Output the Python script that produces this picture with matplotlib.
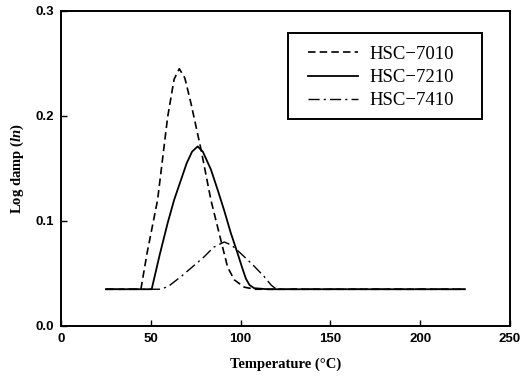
import numpy as np
import matplotlib
matplotlib.use('Agg')
from matplotlib import pyplot as plt, patches

plt.rcParams['mathtext.fontset'] = 'custom'
plt.rcParams['mathtext.it'] = 'Liberation Serif:italic:bold'
plt.rcParams['mathtext.rm'] = 'Liberation Serif:bold'

# HSC-7010 (dashed)
t_7010 = [25, 35, 44.5, 48, 53.8, 59.4, 63, 65.9, 69, 72.4, 78, 83.5, 89, 92.8, 96.5, 102, 108, 115, 130, 160, 200, 225]
d_7010 = [0.035, 0.035, 0.035, 0.07, 0.12, 0.199, 0.235, 0.245, 0.236, 0.212, 0.168, 0.12, 0.082, 0.056, 0.044, 0.037, 0.035, 0.035, 0.035, 0.035, 0.035, 0.035]

# HSC-7210 (solid)
t_7210 = [25, 40, 50.5, 55, 59.4, 63, 66.8, 70, 73, 76.1, 79, 83.5, 87, 90.9, 94.5, 98.4, 101, 103, 105, 107.6, 115, 150, 225]
d_7210 = [0.035, 0.035, 0.035, 0.068, 0.098, 0.12, 0.139, 0.155, 0.166, 0.171, 0.166, 0.149, 0.131, 0.110, 0.089, 0.069, 0.055, 0.045, 0.039, 0.036, 0.035, 0.035, 0.035]

# HSC-7410 (dash-dot)
t_7410 = [25, 45, 55.7, 60, 66.8, 73, 79.8, 85, 90.9, 95, 100.2, 107, 113.2, 117, 120, 140, 225]
d_7410 = [0.035, 0.035, 0.035, 0.038, 0.047, 0.056, 0.066, 0.075, 0.080, 0.077, 0.069, 0.058, 0.047, 0.039, 0.035, 0.035, 0.035]

labels = ['HSC\u22127010', 'HSC\u22127210', 'HSC\u22127410']
x_ticks = [0, 50, 100, 150, 200, 250]
y_ticks = [0.0, 0.1, 0.2, 0.3]


def main():
    fig = plt.figure(figsize=(5.24, 3.78), dpi=100)
    ax = fig.add_axes([0.1164, 0.1376, 0.8566, 0.8334])

    ax.plot(t_7010, d_7010, color='black', linestyle=(0, (4.5, 2.5)), linewidth=1.2, label=labels[0])
    ax.plot(t_7210, d_7210, color='black', linestyle='-', linewidth=1.3, label=labels[1])
    ax.plot(t_7410, d_7410, color='black', linestyle=(0, (8, 3, 1.5, 3)), linewidth=1.0, label=labels[2])

    ax.set_xlim(0, 250)
    ax.set_ylim(0, 0.3)
    ax.set_xticks(x_ticks)
    ax.set_yticks(y_ticks)
    ax.set_xticklabels([str(v) for v in x_ticks])
    ax.set_yticklabels(['%.1f' % v for v in y_ticks])
    ax.tick_params(direction='in', length=4, width=1, top=False, right=False, pad=5)
    for lab in ax.get_xticklabels() + ax.get_yticklabels():
        lab.set_fontfamily('Liberation Sans')
        lab.set_fontweight('bold')
        lab.set_fontsize(9.5)
    for sp in ax.spines.values():
        sp.set_linewidth(1.4)

    ax.set_xlabel('Temperature (°C)', family='Liberation Serif', fontweight='bold', fontsize=10.5, labelpad=9)
    ax.set_ylabel('Log damp ($\\mathit{ln}$)', family='Liberation Serif', fontweight='bold', fontsize=10.5, labelpad=7)

    # legend without its own frame; a wider box is drawn around it
    fig.legend(loc='upper left', bbox_to_anchor=(0.588, 0.879), prop={'family': 'Liberation Serif', 'size': 13.5},
               frameon=False, handlelength=2.67, handletextpad=0.6,
               borderpad=0, labelspacing=0.33, borderaxespad=0)
    fig.add_artist(patches.Rectangle((0.5496, 0.6852), 0.3702, 0.2275, transform=fig.transFigure,
                                     fill=False, edgecolor='black', linewidth=1.4))

    plt.savefig('out.png', dpi=100)


if __name__ == '__main__':
    main()
